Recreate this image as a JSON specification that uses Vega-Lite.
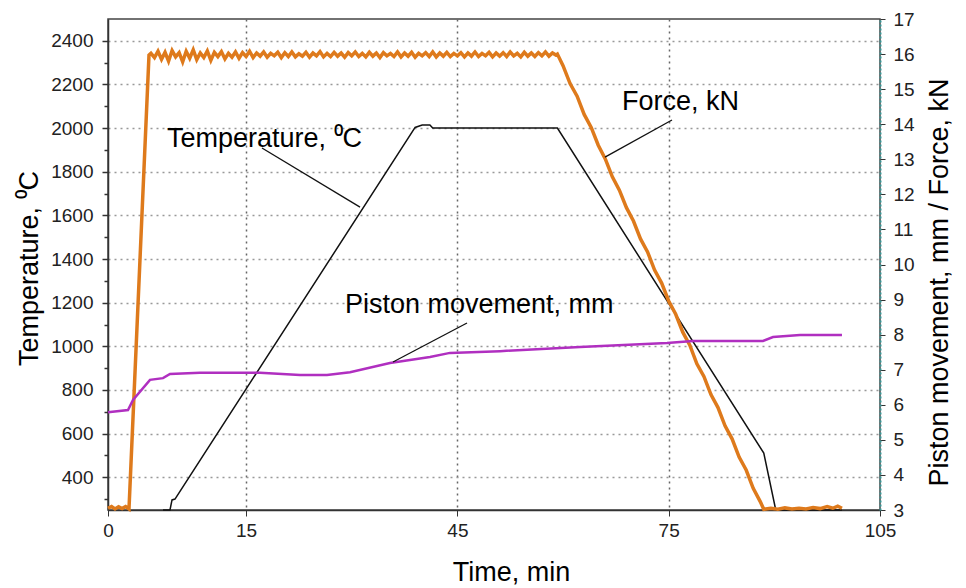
{
  "$schema": "https://vega.github.io/schema/vega-lite/v6.json",
  "width": 772,
  "height": 491,
  "autosize": {"type": "none"},
  "padding": {"left": 108, "top": 19, "right": 86, "bottom": 78},
  "background": "white",
  "config": {
    "view": {"stroke": "#444", "strokeWidth": 1.5},
    "font": "Liberation Sans"
  },
  "datasets": {
    "temp": [
      {"t": 3.21, "T": 250}, {"t": 4.2, "T": 250}, {"t": 4.49, "T": 296}, {"t": 4.91, "T": 300},
      {"t": 39.0, "T": 2003}, {"t": 40.0, "T": 2014}, {"t": 41.1, "T": 2014}, {"t": 41.5, "T": 2000},
      {"t": 59.2, "T": 2000}, {"t": 88.5, "T": 511}, {"t": 90.2, "T": 250}, {"t": 99.6, "T": 250}
    ],
    "force": [
      {"t": -4.6, "F": 3.05}, {"t": -4.1, "F": 3.1}, {"t": -3.6, "F": 3.03}, {"t": -3.1, "F": 3.09},
      {"t": -2.6, "F": 3.04}, {"t": -2.1, "F": 3.1}, {"t": -1.62, "F": 3.03},
      {"t": 1.22, "F": 15.97},
      {"t": 1.5, "F": 16.02}, {"t": 2, "F": 15.9}, {"t": 2.5, "F": 16.08}, {"t": 3, "F": 15.85},
      {"t": 3.5, "F": 16.05}, {"t": 4, "F": 15.8}, {"t": 4.5, "F": 16.1}, {"t": 5, "F": 15.92},
      {"t": 5.5, "F": 16.04}, {"t": 6, "F": 15.78}, {"t": 6.5, "F": 16.08}, {"t": 7, "F": 15.88},
      {"t": 7.5, "F": 16.12}, {"t": 8, "F": 15.84}, {"t": 8.5, "F": 16.03}, {"t": 9, "F": 15.9},
      {"t": 9.5, "F": 16.09}, {"t": 10, "F": 15.82}, {"t": 10.5, "F": 16.05}, {"t": 11, "F": 15.93},
      {"t": 11.5, "F": 16.07}, {"t": 12, "F": 15.86}, {"t": 12.5, "F": 16.02}, {"t": 13, "F": 15.91},
      {"t": 13.5, "F": 16.06}, {"t": 14, "F": 15.88}, {"t": 14.5, "F": 16.04}, {"t": 15, "F": 15.93},
      {"t": 15.5, "F": 16.08}, {"t": 16, "F": 15.9}, {"t": 16.5, "F": 16.03}, {"t": 17, "F": 15.94},
      {"t": 17.5, "F": 16.06}, {"t": 18, "F": 15.91}, {"t": 18.5, "F": 16.02}, {"t": 19, "F": 15.95},
      {"t": 19.5, "F": 16.05}, {"t": 20, "F": 15.9}, {"t": 20.5, "F": 16.04}, {"t": 21, "F": 15.93},
      {"t": 21.5, "F": 16.06}, {"t": 22, "F": 15.92}, {"t": 22.5, "F": 16.01}, {"t": 23, "F": 15.94},
      {"t": 23.5, "F": 16.05}, {"t": 24, "F": 15.91}, {"t": 24.5, "F": 16.03}, {"t": 25, "F": 15.95},
      {"t": 25.5, "F": 16.07}, {"t": 26, "F": 15.92}, {"t": 26.5, "F": 16.02}, {"t": 27, "F": 15.93},
      {"t": 27.5, "F": 16.05}, {"t": 28, "F": 15.94}, {"t": 28.5, "F": 16.03}, {"t": 29, "F": 15.91},
      {"t": 29.5, "F": 16.04}, {"t": 30, "F": 15.95}, {"t": 30.5, "F": 16.06}, {"t": 31, "F": 15.93},
      {"t": 31.5, "F": 16.02}, {"t": 32, "F": 15.92}, {"t": 32.5, "F": 16.05}, {"t": 33, "F": 15.94},
      {"t": 33.5, "F": 16.03}, {"t": 34, "F": 15.9}, {"t": 34.5, "F": 16.04}, {"t": 35, "F": 15.95},
      {"t": 35.5, "F": 16.02}, {"t": 36, "F": 15.93}, {"t": 36.5, "F": 16.06}, {"t": 37, "F": 15.92},
      {"t": 37.5, "F": 16.03}, {"t": 38, "F": 15.94}, {"t": 38.5, "F": 16.05}, {"t": 39, "F": 15.91},
      {"t": 39.5, "F": 16.02}, {"t": 40, "F": 15.95}, {"t": 40.5, "F": 16.04}, {"t": 41, "F": 15.93},
      {"t": 41.5, "F": 16.06}, {"t": 42, "F": 15.92}, {"t": 42.5, "F": 16.03}, {"t": 43, "F": 15.94},
      {"t": 43.5, "F": 16.05}, {"t": 44, "F": 15.93}, {"t": 44.5, "F": 16.02}, {"t": 45, "F": 15.95},
      {"t": 45.5, "F": 16.04}, {"t": 46, "F": 15.92}, {"t": 46.5, "F": 16.03}, {"t": 47, "F": 15.94},
      {"t": 47.5, "F": 16.06}, {"t": 48, "F": 15.93}, {"t": 48.5, "F": 16.02}, {"t": 49, "F": 15.95},
      {"t": 49.5, "F": 16.05}, {"t": 50, "F": 15.92}, {"t": 50.5, "F": 16.03}, {"t": 51, "F": 15.94},
      {"t": 51.5, "F": 16.04}, {"t": 52, "F": 15.93}, {"t": 52.5, "F": 16.06}, {"t": 53, "F": 15.95},
      {"t": 53.5, "F": 16.02}, {"t": 54, "F": 15.92}, {"t": 54.5, "F": 16.05}, {"t": 55, "F": 15.94},
      {"t": 55.5, "F": 16.03}, {"t": 56, "F": 15.93}, {"t": 56.5, "F": 16.04}, {"t": 57, "F": 15.95},
      {"t": 57.5, "F": 16.06}, {"t": 58, "F": 15.94}, {"t": 58.5, "F": 16.03}, {"t": 59, "F": 15.97},
      {"t": 59.2, "F": 16.0},
      {"t": 60, "F": 15.67}, {"t": 61, "F": 15.16}, {"t": 62, "F": 14.8}, {"t": 63, "F": 14.28},
      {"t": 64, "F": 13.91}, {"t": 65, "F": 13.4}, {"t": 66, "F": 13.01}, {"t": 67, "F": 12.5},
      {"t": 68, "F": 12.12}, {"t": 69, "F": 11.62}, {"t": 70, "F": 11.24}, {"t": 71, "F": 10.73},
      {"t": 72, "F": 10.36}, {"t": 73, "F": 9.84}, {"t": 74, "F": 9.47}, {"t": 75, "F": 8.96},
      {"t": 76, "F": 8.58}, {"t": 77, "F": 8.07}, {"t": 78, "F": 7.7}, {"t": 79, "F": 7.17},
      {"t": 80, "F": 6.81}, {"t": 81, "F": 6.29}, {"t": 82, "F": 5.92}, {"t": 83, "F": 5.4},
      {"t": 84, "F": 5.03}, {"t": 85, "F": 4.51}, {"t": 86, "F": 4.14}, {"t": 87, "F": 3.62},
      {"t": 88, "F": 3.24}, {"t": 88.5, "F": 3.02},
      {"t": 89.5, "F": 3.05}, {"t": 90.5, "F": 3.02}, {"t": 91.5, "F": 3.06}, {"t": 92.5, "F": 3.03},
      {"t": 93.5, "F": 3.05}, {"t": 94.5, "F": 3.03}, {"t": 95.5, "F": 3.07}, {"t": 96.5, "F": 3.04},
      {"t": 97.5, "F": 3.1}, {"t": 98.3, "F": 3.05}, {"t": 99, "F": 3.11}, {"t": 99.6, "F": 3.05}
    ],
    "piston": [
      {"t": -4.6, "P": 5.79}, {"t": -1.76, "P": 5.85}, {"t": -1.05, "P": 6.14}, {"t": 1.36, "P": 6.71},
      {"t": 3.21, "P": 6.76}, {"t": 4.2, "P": 6.88}, {"t": 8.46, "P": 6.91}, {"t": 16.98, "P": 6.91},
      {"t": 22.66, "P": 6.85}, {"t": 26.49, "P": 6.85}, {"t": 29.76, "P": 6.93}, {"t": 35.43, "P": 7.19},
      {"t": 41.11, "P": 7.36}, {"t": 43.95, "P": 7.48}, {"t": 51.05, "P": 7.53}, {"t": 62.41, "P": 7.65},
      {"t": 74.76, "P": 7.76}, {"t": 78.45, "P": 7.82}, {"t": 88.39, "P": 7.82}, {"t": 89.81, "P": 7.93},
      {"t": 93.64, "P": 7.99}, {"t": 99.6, "P": 7.99}
    ],
    "labels": [
      {"label": "Temperature, ⁰C", "t": 3.78, "T": 1913},
      {"label": "Force, kN", "t": 68.37, "T": 2083},
      {"label": "Piston movement, mm", "t": 29.05, "T": 1153}
    ],
    "leaders": [
      {"t1": 17.26, "T1": 1909, "t2": 31.18, "T2": 1638},
      {"t1": 75.47, "T1": 2037, "t2": 65.96, "T2": 1867},
      {"t1": 46.37, "T1": 1107, "t2": 35.86, "T2": 928}
    ]
  },
  "layer": [
    {
      "data": {"name": "temp"},
      "mark": {"type": "line", "color": "#111", "strokeWidth": 1.5},
      "encoding": {
        "x": {
          "field": "t", "type": "quantitative",
          "scale": {"domain": [-4.6, 105], "nice": false, "zero": false},
          "axis": {
            "values": [-4.6, 15, 45, 75, 105],
            "labelExpr": "datum.value < 0 ? '0' : datum.label",
            "grid": true, "gridDash": [2, 4], "gridColor": "#666", "gridWidth": 1.5,
            "gridOpacity": {"condition": {"test": "datum.value < 0 || datum.value > 100", "value": 0}, "value": 1},
            "tickSize": 6, "tickColor": "#333", "labelPadding": 5,
            "labelFontSize": 19, "labelColor": "#222", "labelFlush": false, "labelOverlap": false,
            "domainColor": "#333", "domainWidth": 1.5,
            "title": "Time, min", "titleFontSize": 27, "titleFontWeight": "normal", "titleColor": "#000",
            "titleX": 403, "titleY": 70, "titleBaseline": "alphabetic", "titleAlign": "center"
          }
        },
        "y": {
          "field": "T", "type": "quantitative",
          "scale": {"domain": [250, 2500], "nice": false, "zero": false},
          "axis": {
            "orient": "left",
            "values": [300, 400, 500, 600, 700, 800, 900, 1000, 1100, 1200, 1300, 1400, 1500, 1600, 1700, 1800, 1900, 2000, 2100, 2200, 2300, 2400],
            "labelExpr": "datum.value % 200 == 0 ? datum.label : ''",
            "format": "d",
            "grid": true, "gridDash": [2, 4], "gridColor": "#999", "gridWidth": 1.5,
            "gridOpacity": {"condition": {"test": "datum.value % 200 != 0", "value": 0}, "value": 1},
            "tickSize": {"condition": {"test": "datum.value % 200 != 0", "value": 4}, "value": 6},
            "tickColor": "#333", "tickWidth": 1.5,
            "labelPadding": 9, "labelFontSize": 19, "labelColor": "#222", "labelOverlap": false, "labelFlush": false,
            "domainColor": "#333", "domainWidth": 1.5,
            "title": "Temperature, ⁰C", "titleFontSize": 27, "titleFontWeight": "normal", "titleColor": "#000",
            "titleAngle": -90, "titleX": -71, "titleY": 249, "titleBaseline": "alphabetic", "titleAlign": "center"
          }
        }
      }
    },
    {
      "data": {"name": "force"},
      "mark": {"type": "line", "color": "#DE7A1C", "strokeWidth": 3.5},
      "encoding": {
        "x": {"field": "t", "type": "quantitative", "scale": {"domain": [-4.6, 105], "nice": false, "zero": false}, "axis": null},
        "y": {
          "field": "F", "type": "quantitative",
          "scale": {"domain": [3, 17], "nice": false, "zero": false},
          "axis": {
            "orient": "right",
            "values": [3, 4, 5, 6, 7, 8, 9, 10, 11, 12, 13, 14, 15, 16, 17],
            "grid": false, "tickSize": 5, "tickColor": "#333",
            "labelPadding": 8, "labelFontSize": 19, "labelColor": "#222", "labelOverlap": false, "labelFlush": false,
            "domainColor": "#3a9a9a", "domainDash": [2, 2], "domainWidth": 2,
            "title": "Piston movement, mm / Force, kN", "titleFontSize": 27, "titleFontWeight": "normal", "titleColor": "#000",
            "titleAngle": 270, "titleX": 67, "titleY": 263, "titleBaseline": "alphabetic", "titleAlign": "center"
          }
        }
      }
    },
    {
      "data": {"name": "piston"},
      "mark": {"type": "line", "color": "#B02FC0", "strokeWidth": 2.5},
      "encoding": {
        "x": {"field": "t", "type": "quantitative", "scale": {"domain": [-4.6, 105], "nice": false, "zero": false}, "axis": null},
        "y": {"field": "P", "type": "quantitative", "scale": {"domain": [3, 17], "nice": false, "zero": false}, "axis": null}
      }
    },
    {
      "data": {"name": "leaders"},
      "mark": {"type": "rule", "color": "#111", "strokeWidth": 1.3},
      "encoding": {
        "x": {"field": "t1", "type": "quantitative", "scale": {"domain": [-4.6, 105], "nice": false, "zero": false}, "axis": null},
        "x2": {"field": "t2"},
        "y": {"field": "T1", "type": "quantitative", "scale": {"domain": [250, 2500], "nice": false, "zero": false}, "axis": null},
        "y2": {"field": "T2"}
      }
    },
    {
      "data": {"name": "labels"},
      "mark": {"type": "text", "align": "left", "baseline": "alphabetic", "fontSize": 27, "color": "#000", "font": "Liberation Sans"},
      "encoding": {
        "x": {"field": "t", "type": "quantitative", "scale": {"domain": [-4.6, 105], "nice": false, "zero": false}, "axis": null},
        "y": {"field": "T", "type": "quantitative", "scale": {"domain": [250, 2500], "nice": false, "zero": false}, "axis": null},
        "text": {"field": "label"}
      }
    }
  ],
  "resolve": {
    "scale": {"x": "independent", "y": "independent"},
    "axis": {"x": "independent", "y": "independent"}
  }
}
